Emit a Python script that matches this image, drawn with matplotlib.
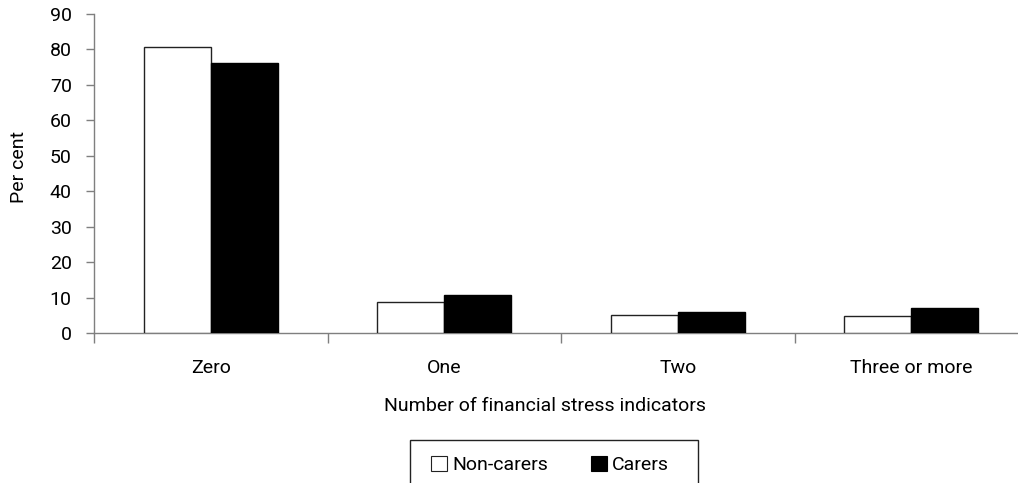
import matplotlib
matplotlib.use("Agg")
import matplotlib.pyplot as plt
import matplotlib.transforms as mtransforms
from matplotlib.patches import Patch, Rectangle
import numpy as np

categories = ["Zero", "One", "Two", "Three or more"]
non_carers = [80.8, 8.9, 5.2, 4.9]
carers = [76.1, 10.8, 6.0, 7.1]
series_names = ["Non-carers", "Carers"]
y_ticks = [0, 10, 20, 30, 40, 50, 60, 70, 80, 90]

plt.rcParams['font.family'] = ['Roboto', 'DejaVu Sans']
FS = 14

W, H = 1018, 483
fig = plt.figure(figsize=(W / 100, H / 100), dpi=100)
ax = fig.add_axes([94 / W, 1 - 333.3 / H, (1028 - 94) / W, (333.3 - 14) / H])

x = np.arange(len(categories))
bw = 0.287
spine_col = "#7f7f7f"
ax.bar(x - bw / 2, non_carers, width=bw, color="white", edgecolor="#222222", linewidth=1.0, zorder=3)
ax.bar(x + bw / 2, carers, width=bw, color="black", edgecolor="black", linewidth=1.0, zorder=3)

ax.set_xlim(-0.5, len(categories) - 0.5)
ax.set_ylim(0, 90)
ax.set_yticks(y_ticks)
ax.set_yticklabels([str(v) for v in y_ticks], fontsize=FS)
ax.set_xticks(np.arange(len(categories) + 1) - 0.5)
ax.set_xticklabels([])
ax.tick_params(axis='x', which='major', length=7, direction='out', color=spine_col, width=1)
ax.tick_params(axis='y', length=6, direction='out', color=spine_col, width=1, pad=10)

trans = mtransforms.blended_transform_factory(ax.transData, fig.transFigure)
for xi, c in zip(x, categories):
    ax.text(xi, 1 - 373 / H, c, transform=trans, ha="center", va="baseline", fontsize=FS)

for s in ["top", "right"]:
    ax.spines[s].set_visible(False)
for s in ["left", "bottom"]:
    ax.spines[s].set_color(spine_col)
    ax.spines[s].set_linewidth(1)

fig.text(545 / W, 1 - 410.7 / H, "Number of financial stress indicators", ha="center", va="baseline", fontsize=FS)
fig.text(19.5 / W, 1 - 167 / H, "Per cent", ha="center", va="center", rotation=90, fontsize=FS)

# legend frame (extends past the bottom edge as in the reference)
fig.patches.append(Rectangle((410 / W, 1 - 500 / H), (698 - 410) / W, (500 - 440) / H,
                             transform=fig.transFigure, facecolor="none", edgecolor="#222222",
                             linewidth=1))
handles = [Patch(facecolor="white", edgecolor="#222222", linewidth=0.8),
           Patch(facecolor="black", edgecolor="black", linewidth=0.8)]
leg = fig.legend(handles, series_names, loc="center", bbox_to_anchor=(550 / W, 1 - 465 / H),
                 ncol=2, frameon=False, fontsize=FS, handlelength=0.85, handleheight=0.85,
                 handletextpad=0.25, columnspacing=2.2, borderpad=0, borderaxespad=0)

fig.savefig("out.png", dpi=100)
